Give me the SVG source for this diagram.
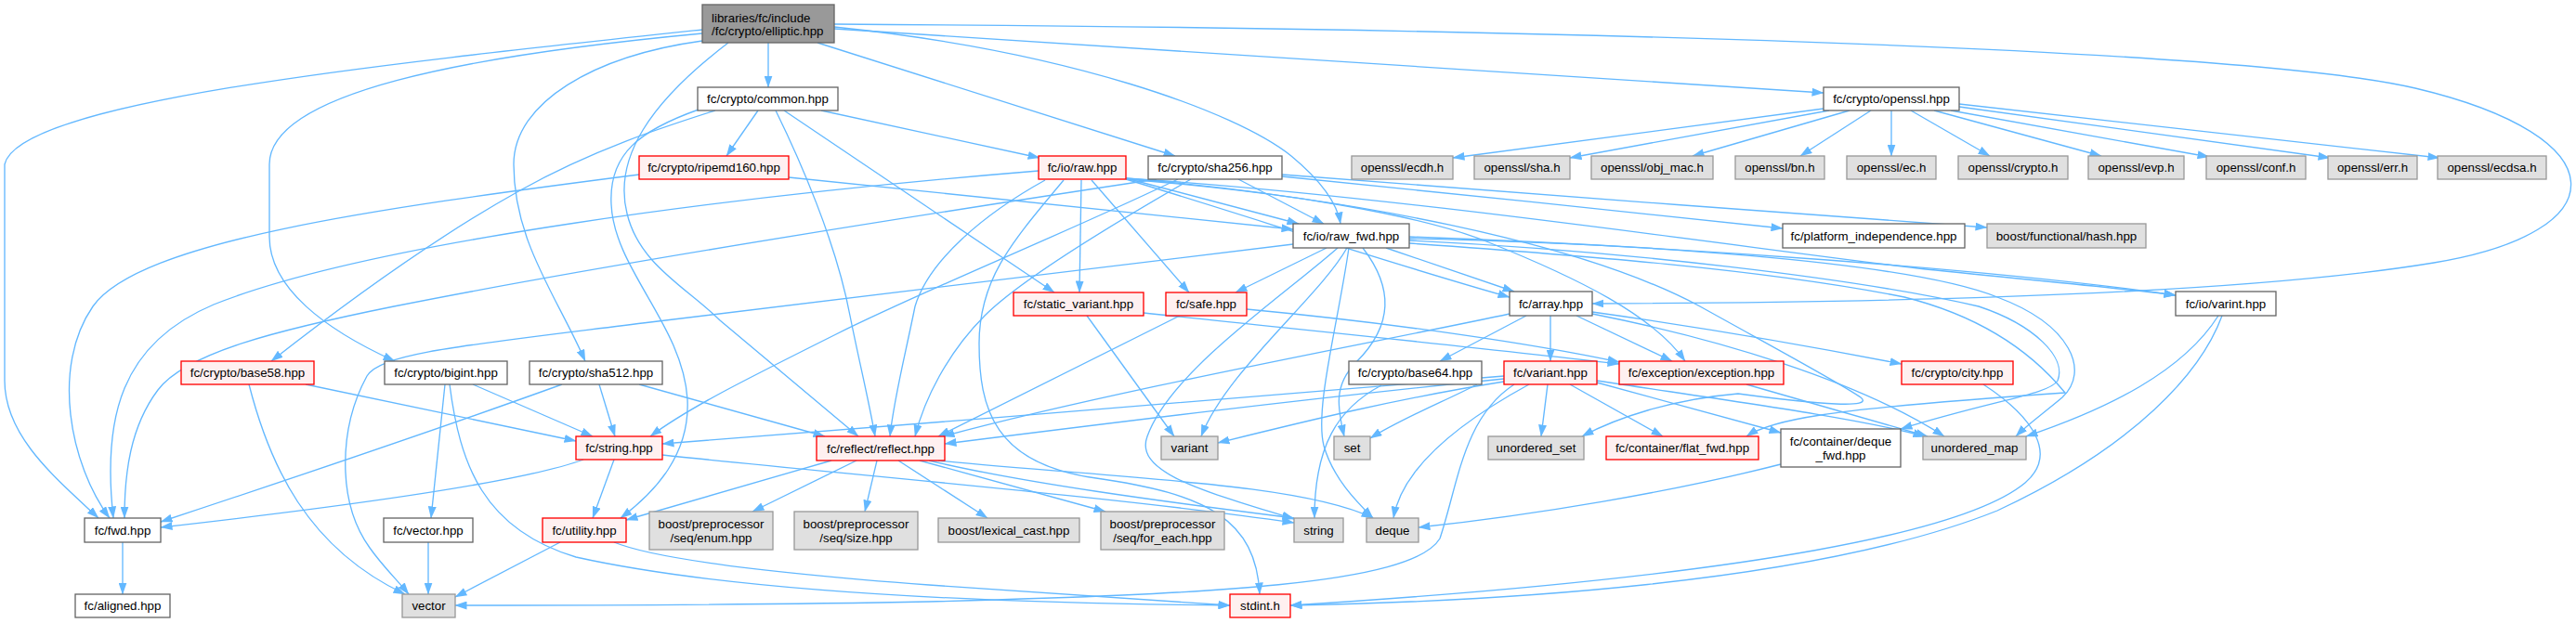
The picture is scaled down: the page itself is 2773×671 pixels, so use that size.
<svg xmlns="http://www.w3.org/2000/svg" width="2773" height="671" viewBox="0 0 2773 671">
<style>
.e{fill:none;stroke:#63b8ff;stroke-width:1.33;marker-end:url(#a)}
.w{fill:#ffffff;stroke:#666666;stroke-width:1.33}
.r{fill:#fff0f0;stroke:#ff0000;stroke-width:1.33}
.g{fill:#e0e0e0;stroke:#999999;stroke-width:1.33}
.m{fill:#999999;stroke:#666666;stroke-width:1.33}
text{font-family:"Liberation Sans",Arial,sans-serif;font-size:13.3px;fill:#000000;text-anchor:middle}
</style>
<defs>
<marker id="a" viewBox="0 0 13 9" refX="12.5" refY="4.5" markerWidth="13" markerHeight="9" markerUnits="userSpaceOnUse" orient="auto"><path d="M0,0 L13,4.5 L0,9 z" fill="#63b8ff"/></marker>
</defs>
<rect width="2773" height="671" fill="#ffffff"/>
<g id="edges">
<path class="e" d="M827,46 L827,94"/>
<path class="e" d="M898,31 L1963,100"/>
<path class="e" d="M898,26 C1600,30 2410,50 2600,95 C2820,147 2820,250 2620,283 C2420,316 2050,326 1714,327"/>
<path class="e" d="M898,29 C1150,55 1330,120 1390,168 C1425,197 1440,222 1443,241"/>
<path class="e" d="M880,46 L1265,168"/>
<path class="e" d="M756,32 C400,70 20,110 5,177 L5,410 C5,470 60,515 106,558"/>
<path class="e" d="M756,36 C500,60 290,100 290,177 L290,255 C290,310 350,355 425,389"/>
<path class="e" d="M756,44 C640,60 553,110 553,177 C553,260 600,320 630,389"/>
<path class="e" d="M784,46 C700,110 660,170 675,230 C688,285 740,310 775,345 L924,470"/>
<path class="e" d="M816,119 L782,168"/>
<path class="e" d="M884,119 L1119,170"/>
<path class="e" d="M770,119 C720,135 640,160 560,205 C470,255 380,320 292,389"/>
<path class="e" d="M752,118 C690,140 655,165 658,220 C661,290 735,350 740,430 C743,490 705,530 668,558"/>
<path class="e" d="M835,119 C860,170 900,260 915,340 C925,390 935,430 942,470"/>
<path class="e" d="M844,119 L1135,315"/>
<path class="e" d="M688,188 C400,225 150,260 100,330 C55,395 75,500 118,558"/>
<path class="e" d="M849,191 L1392,247"/>
<path class="e" d="M1118,184 C800,210 400,260 230,328 C130,370 110,450 122,558"/>
<path class="e" d="M1125,194 C1060,230 1000,280 985,330 C975,380 962,430 958,470"/>
<path class="e" d="M1145,194 C1090,260 1054,300 1054,370 C1054,440 1070,500 1180,515 C1300,532 1352,560 1356,640"/>
<path class="e" d="M1164,194 L1162,315"/>
<path class="e" d="M1175,194 L1280,315"/>
<path class="e" d="M1212,192 L1398,241"/>
<path class="e" d="M1212,193 C1350,235 1500,285 1625,320"/>
<path class="e" d="M1212,192 C1380,206 1530,232 1600,260 C1700,300 1780,340 1814,389"/>
<path class="e" d="M1212,192 C1500,210 1900,270 2073,290 C2200,303 2300,312 2342,318"/>
<path class="e" d="M1212,193 C1450,212 1700,260 1830,330 C1920,380 1985,415 2003,428 C2018,440 1960,436 1871,424 C1800,430 1740,450 1703,470"/>
<path class="e" d="M1380,190 C1550,207 1750,228 1919,246"/>
<path class="e" d="M1380,188 C1600,205 1900,228 2139,245"/>
<path class="e" d="M1333,193 L1425,241"/>
<path class="e" d="M1245,193 C1000,230 650,285 424,330 C300,355 200,380 170,420 C140,460 134,510 134,558"/>
<path class="e" d="M1268,193 C1150,250 1000,310 900,360 C800,410 740,440 700,470"/>
<path class="e" d="M1282,193 C1200,240 1100,300 1060,340 C1020,380 995,430 985,470"/>
<path class="e" d="M1963,117 L1564,170"/>
<path class="e" d="M1969,119 L1690,170"/>
<path class="e" d="M1991,119 L1822,168"/>
<path class="e" d="M2014,119 L1938,168"/>
<path class="e" d="M2036,119 L2036,168"/>
<path class="e" d="M2057,119 L2142,168"/>
<path class="e" d="M2082,119 L2262,168"/>
<path class="e" d="M2100,119 L2378,169"/>
<path class="e" d="M2109,115 L2508,170"/>
<path class="e" d="M2109,112 L2626,170"/>
<path class="e" d="M1428,267 L1330,315"/>
<path class="e" d="M1450,267 C1420,320 1320,400 1293,470"/>
<path class="e" d="M1440,267 C1380,320 1260,400 1235,470 C1220,510 1300,530 1393,559"/>
<path class="e" d="M1452,267 C1440,350 1415,440 1425,480 C1435,515 1460,540 1478,558"/>
<path class="e" d="M1467,267 C1500,310 1500,350 1460,390 C1435,415 1440,440 1447,470"/>
<path class="e" d="M1392,263 L700,347 C500,372 410,380 395,405 C365,460 362,540 398,590 C412,610 428,625 440,640"/>
<path class="e" d="M1492,267 L1630,314"/>
<path class="e" d="M1517,255 C1800,265 2150,290 2342,318"/>
<path class="e" d="M1517,257 C1750,262 2050,280 2150,320 C2230,350 2250,400 2220,428 C2200,445 2185,455 2170,470"/>
<path class="e" d="M1517,259 C1750,270 2000,300 2130,330 C2190,350 2225,385 2215,410 C2205,425 2150,430 2046,462"/>
<path class="e" d="M1517,262 C1700,275 1900,290 2050,320 C2150,345 2200,395 2223,423 C2150,428 2020,438 1960,447 C1920,453 1895,460 1880,470"/>
<path class="e" d="M1170,340 L1264,470"/>
<path class="e" d="M1231,337 C1400,355 1600,375 1743,392"/>
<path class="e" d="M1342,333 C1500,348 1650,370 1743,390"/>
<path class="e" d="M1270,340 L1010,470"/>
<path class="e" d="M1643,340 L1550,389"/>
<path class="e" d="M1669,340 L1669,389"/>
<path class="e" d="M1697,340 L1800,389"/>
<path class="e" d="M1714,336 C1850,355 1960,375 2047,392"/>
<path class="e" d="M1625,338 C1500,365 1200,420 1015,470"/>
<path class="e" d="M1714,338 C1850,365 2000,410 2093,470"/>
<path class="e" d="M1487,415 C1440,440 1415,480 1415,558"/>
<path class="e" d="M1619,405 C1400,425 1000,455 713,478"/>
<path class="e" d="M1619,408 C1400,430 1200,455 1017,478"/>
<path class="e" d="M1619,411 C1500,430 1400,455 1311,477"/>
<path class="e" d="M1590,414 C1560,430 1510,450 1475,472"/>
<path class="e" d="M1646,414 C1580,450 1510,500 1500,558"/>
<path class="e" d="M1630,414 C1575,450 1570,520 1550,580 C1520,630 1300,640 1000,648 C800,652 600,652 490,652"/>
<path class="e" d="M1666,414 L1659,470"/>
<path class="e" d="M1690,414 L1790,470"/>
<path class="e" d="M1719,412 L1917,466"/>
<path class="e" d="M1719,410 C1850,430 2000,450 2072,470"/>
<path class="e" d="M1880,414 L2075,470"/>
<path class="e" d="M1917,500 C1800,530 1650,555 1527,568"/>
<path class="e" d="M2135,414 C2190,450 2215,490 2180,520 C2120,570 1900,620 1389,652"/>
<path class="e" d="M2392,340 C2370,400 2300,480 2150,550 C1950,630 1600,648 1389,652"/>
<path class="e" d="M2388,340 C2350,400 2270,440 2181,470"/>
<path class="e" d="M509,414 L638,470"/>
<path class="e" d="M479,414 L464,558"/>
<path class="e" d="M484,414 C495,500 520,570 620,600 C800,640 1100,650 1324,652"/>
<path class="e" d="M329,414 L620,475"/>
<path class="e" d="M268,414 C290,500 330,590 436,640"/>
<path class="e" d="M645,414 L662,470"/>
<path class="e" d="M605,414 C450,470 300,520 173,562"/>
<path class="e" d="M688,414 L888,470"/>
<path class="e" d="M628,495 C560,520 350,548 173,568"/>
<path class="e" d="M661,495 L638,558"/>
<path class="e" d="M713,490 C900,510 1200,535 1393,563"/>
<path class="e" d="M132,584 L132,640"/>
<path class="e" d="M461,584 L461,640"/>
<path class="e" d="M603,584 L490,643"/>
<path class="e" d="M661,584 C700,600 800,615 1000,630 C1150,640 1250,648 1324,652"/>
<path class="e" d="M895,496 L674,560"/>
<path class="e" d="M922,496 L810,551"/>
<path class="e" d="M944,496 L931,551"/>
<path class="e" d="M967,496 L1063,558"/>
<path class="e" d="M990,496 L1190,551"/>
<path class="e" d="M1000,496 C1100,520 1250,540 1393,558"/>
<path class="e" d="M1010,496 C1200,515 1400,520 1478,558"/>
</g>
<g id="n_elliptic"><rect class="m" x="756" y="5" width="142" height="41"/><text x="766" y="23.5" style="text-anchor:start">libraries/fc/include</text><text x="766" y="38" style="text-anchor:start">/fc/crypto/elliptic.hpp</text></g>
<g id="n_common"><rect class="w" x="751" y="94" width="151" height="25"/><text x="826.5" y="111.2">fc/crypto/common.hpp</text></g>
<g id="n_openssl"><rect class="w" x="1963" y="94" width="146" height="25"/><text x="2036" y="111.2">fc/crypto/openssl.hpp</text></g>
<g id="n_ripemd160"><rect class="r" x="688" y="168" width="161" height="25"/><text x="768.5" y="185.2">fc/crypto/ripemd160.hpp</text></g>
<g id="n_raw"><rect class="r" x="1118" y="168" width="94" height="25"/><text x="1165" y="185.2">fc/io/raw.hpp</text></g>
<g id="n_sha256"><rect class="w" x="1236" y="168" width="144" height="25"/><text x="1308" y="185.2">fc/crypto/sha256.hpp</text></g>
<g id="n_ecdh"><rect class="g" x="1455" y="168" width="109" height="25"/><text x="1509.5" y="185.2">openssl/ecdh.h</text></g>
<g id="n_sha"><rect class="g" x="1587" y="168" width="103" height="25"/><text x="1638.5" y="185.2">openssl/sha.h</text></g>
<g id="n_objmac"><rect class="g" x="1713" y="168" width="131" height="25"/><text x="1778.5" y="185.2">openssl/obj_mac.h</text></g>
<g id="n_bn"><rect class="g" x="1868" y="168" width="96" height="25"/><text x="1916" y="185.2">openssl/bn.h</text></g>
<g id="n_ec"><rect class="g" x="1988" y="168" width="96" height="25"/><text x="2036" y="185.2">openssl/ec.h</text></g>
<g id="n_crypto"><rect class="g" x="2108" y="168" width="118" height="25"/><text x="2167" y="185.2">openssl/crypto.h</text></g>
<g id="n_evp"><rect class="g" x="2248" y="168" width="103" height="25"/><text x="2299.5" y="185.2">openssl/evp.h</text></g>
<g id="n_conf"><rect class="g" x="2375" y="168" width="107" height="25"/><text x="2428.5" y="185.2">openssl/conf.h</text></g>
<g id="n_err"><rect class="g" x="2506" y="168" width="96" height="25"/><text x="2554" y="185.2">openssl/err.h</text></g>
<g id="n_ecdsa"><rect class="g" x="2624" y="168" width="117" height="25"/><text x="2682.5" y="185.2">openssl/ecdsa.h</text></g>
<g id="n_raw_fwd"><rect class="w" x="1392" y="241" width="125" height="26"/><text x="1454.5" y="258.7">fc/io/raw_fwd.hpp</text></g>
<g id="n_platform"><rect class="w" x="1919" y="241" width="196" height="26"/><text x="2017" y="258.7">fc/platform_independence.hpp</text></g>
<g id="n_hash"><rect class="g" x="2139" y="241" width="171" height="26"/><text x="2224.5" y="258.7">boost/functional/hash.hpp</text></g>
<g id="n_static_variant"><rect class="r" x="1091" y="315" width="140" height="25"/><text x="1161" y="332.2">fc/static_variant.hpp</text></g>
<g id="n_safe"><rect class="r" x="1255" y="315" width="87" height="25"/><text x="1298.5" y="332.2">fc/safe.hpp</text></g>
<g id="n_array"><rect class="w" x="1625" y="314" width="89" height="26"/><text x="1669.5" y="331.7">fc/array.hpp</text></g>
<g id="n_varint"><rect class="w" x="2342" y="314" width="108" height="26"/><text x="2396" y="331.7">fc/io/varint.hpp</text></g>
<g id="n_base58"><rect class="r" x="195" y="389" width="143" height="25"/><text x="266.5" y="406.2">fc/crypto/base58.hpp</text></g>
<g id="n_bigint"><rect class="w" x="414" y="389" width="132" height="25"/><text x="480" y="406.2">fc/crypto/bigint.hpp</text></g>
<g id="n_sha512"><rect class="w" x="570" y="389" width="143" height="25"/><text x="641.5" y="406.2">fc/crypto/sha512.hpp</text></g>
<g id="n_base64"><rect class="w" x="1452" y="389" width="143" height="25"/><text x="1523.5" y="406.2">fc/crypto/base64.hpp</text></g>
<g id="n_variant_hpp"><rect class="r" x="1619" y="389" width="100" height="25"/><text x="1669" y="406.2">fc/variant.hpp</text></g>
<g id="n_exception"><rect class="r" x="1743" y="389" width="177" height="25"/><text x="1831.5" y="406.2">fc/exception/exception.hpp</text></g>
<g id="n_city"><rect class="r" x="2047" y="389" width="120" height="25"/><text x="2107" y="406.2">fc/crypto/city.hpp</text></g>
<g id="n_string_hpp"><rect class="r" x="620" y="470" width="93" height="25"/><text x="666.5" y="487.2">fc/string.hpp</text></g>
<g id="n_reflect"><rect class="r" x="879" y="470" width="138" height="26"/><text x="948" y="487.7">fc/reflect/reflect.hpp</text></g>
<g id="n_variant"><rect class="g" x="1250" y="470" width="61" height="25"/><text x="1280.5" y="487.2">variant</text></g>
<g id="n_set"><rect class="g" x="1436" y="470" width="39" height="25"/><text x="1455.5" y="487.2">set</text></g>
<g id="n_unordered_set"><rect class="g" x="1602" y="470" width="103" height="25"/><text x="1653.5" y="487.2">unordered_set</text></g>
<g id="n_flat_fwd"><rect class="r" x="1729" y="470" width="164" height="25"/><text x="1811" y="487.2">fc/container/flat_fwd.hpp</text></g>
<g id="n_deque_fwd"><rect class="w" x="1917" y="462" width="129" height="41"/><text x="1981.5" y="480">fc/container/deque</text><text x="1981.5" y="495">_fwd.hpp</text></g>
<g id="n_unordered_map"><rect class="g" x="2070" y="470" width="111" height="25"/><text x="2125.5" y="487.2">unordered_map</text></g>
<g id="n_fwd"><rect class="w" x="91" y="558" width="82" height="26"/><text x="132" y="575.7">fc/fwd.hpp</text></g>
<g id="n_vector_hpp"><rect class="w" x="413" y="558" width="96" height="26"/><text x="461" y="575.7">fc/vector.hpp</text></g>
<g id="n_utility"><rect class="r" x="584" y="558" width="90" height="26"/><text x="629" y="575.7">fc/utility.hpp</text></g>
<g id="n_enum"><rect class="g" x="699" y="551" width="133" height="41"/><text x="765.5" y="569">boost/preprocessor</text><text x="765.5" y="584">/seq/enum.hpp</text></g>
<g id="n_size"><rect class="g" x="855" y="551" width="133" height="41"/><text x="921.5" y="569">boost/preprocessor</text><text x="921.5" y="584">/seq/size.hpp</text></g>
<g id="n_lexical"><rect class="g" x="1010" y="558" width="152" height="26"/><text x="1086" y="575.7">boost/lexical_cast.hpp</text></g>
<g id="n_for_each"><rect class="g" x="1185" y="551" width="133" height="41"/><text x="1251.5" y="569">boost/preprocessor</text><text x="1251.5" y="584">/seq/for_each.hpp</text></g>
<g id="n_string"><rect class="g" x="1393" y="558" width="53" height="26"/><text x="1419.5" y="575.7">string</text></g>
<g id="n_deque"><rect class="g" x="1471" y="558" width="56" height="26"/><text x="1499" y="575.7">deque</text></g>
<g id="n_aligned"><rect class="w" x="81" y="640" width="102" height="25"/><text x="132" y="657.2">fc/aligned.hpp</text></g>
<g id="n_vector"><rect class="g" x="433" y="640" width="57" height="25"/><text x="461.5" y="657.2">vector</text></g>
<g id="n_stdint"><rect class="r" x="1324" y="640" width="65" height="25"/><text x="1356.5" y="657.2">stdint.h</text></g>
</svg>
